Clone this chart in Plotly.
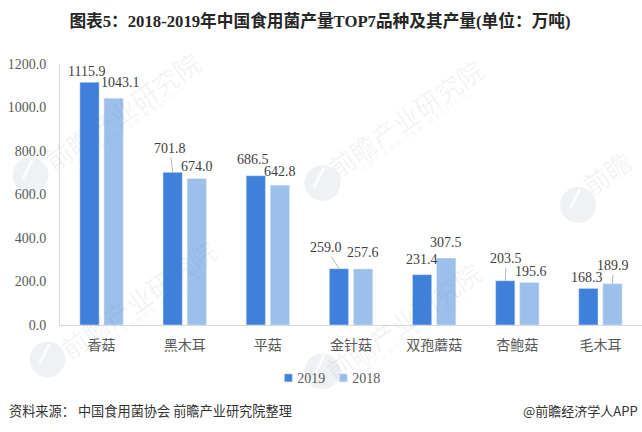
import plotly.graph_objects as go

categories = ["香菇", "黑木耳", "平菇", "金针菇", "双孢蘑菇", "杏鲍菇", "毛木耳"]
values_2019 = [1115.9, 701.8, 686.5, 259.0, 231.4, 203.5, 168.3]
values_2018 = [1043.1, 674.0, 642.8, 257.6, 307.5, 195.6, 189.9]
tick_values = [0, 200, 400, 600, 800, 1000, 1200]
tick_labels = ["0.0", "200.0", "400.0", "600.0", "800.0", "1000.0", "1200.0"]

W, H = 642, 432
ML, MR, MT, MB = 59.5, 0, 63.5, 106.5
FONT = "Liberation Serif, Noto Sans CJK SC"
SANS = "Noto Sans CJK SC, Liberation Sans"
COL19, COL18 = "#3f80dc", "#9dbfec"

# label offsets from bar top (dx, dy px), and whether a leader line is shown
off19 = [(-3, -11), (-3, -24), (-3, -16), (-13, -21), (0, -15), (1, -22), (-1, -11)]
lead19 = [0, 1, 0, 1, 0, 1, 0]
off18 = [(7, -16), (0, -12), (0, -14), (0, -16), (0, -16), (2, -11), (1, -18)]
lead18 = [0, 0, 0, 0, 0, 0, 1]


def px(x):
    return (x - ML) / (W - ML - MR)


def py(y):
    return (H - MB - y) / (H - MT - MB)


fig = go.Figure()
fig.add_bar(name="2019", x=categories, y=values_2019, marker_color=COL19, hoverinfo="skip")
fig.add_bar(name="2018", x=categories, y=values_2018, marker_color=COL18, hoverinfo="skip")

annotations = []
GROUP = 12
for i, c in enumerate(categories):
    for vals, off, lead, sign in ((values_2019, off19, lead19, -1), (values_2018, off18, lead18, 1)):
        dx, dy = off[i]
        annotations.append(dict(
            x=c, y=vals[i], xref="x", yref="y", xshift=sign * GROUP,
            text=f"{vals[i]:.1f}", showarrow=True, ax=dx, ay=dy, axref="pixel", ayref="pixel",
            arrowhead=0, arrowwidth=0.8,
            arrowcolor="#a6a6a6" if lead[i] else "rgba(0,0,0,0)",
            font=dict(family=FONT, size=14, color="#404040"),
        ))

# watermark
WM = "rgba(110,130,155,0.10)"
for cx, cy, t in [(122, 110, "前瞻产业研究院"), (138, 299, "前瞻产业研究院"),
                  (405, 117, "前瞻产业研究院"), (403, 321, "前瞻产业研究院"),
                  (606, 172, "前瞻")]:
    annotations.append(dict(xref="paper", yref="paper", x=px(cx), y=py(cy), text=t, textangle=-35,
                            showarrow=False, xanchor="center", yanchor="middle",
                            font=dict(family=SANS, size=26, color=WM)))
for cx, cy in [(132, 124), (148, 313), (415, 131), (413, 335)]:
    annotations.append(dict(xref="paper", yref="paper", x=px(cx), y=py(cy),
                            text="中 国 产 业 咨 询 领 导 者 ( 股 票 8 3 9 5 9 9 )", textangle=-35,
                            showarrow=False, xanchor="center", yanchor="middle",
                            font=dict(family=SANS, size=7, color=WM)))

shapes = []
for cx, cy in [(30, 175), (47, 360), (322, 183), (322, 372), (578, 205)]:
    r = 18
    shapes.append(dict(type="circle", xref="paper", yref="paper", layer="above", line_width=0,
                       fillcolor="rgba(110,130,155,0.11)",
                       x0=px(cx - r), x1=px(cx + r), y0=py(cy + r), y1=py(cy - r)))
    shapes.append(dict(type="line", xref="paper", yref="paper", layer="above",
                       line=dict(color="rgba(255,255,255,0.75)", width=3),
                       x0=px(cx - 8), x1=px(cx + 2), y0=py(cy + 4), y1=py(cy - 16)))

annotations.append(dict(xref="paper", yref="paper", x=px(6), y=py(411), xanchor="left", yanchor="middle",
                        showarrow=False, text="资料来源： 中国食用菌协会 前瞻产业研究院整理",
                        font=dict(family=SANS, size=13.2, color="#333333")))
annotations.append(dict(xref="paper", yref="paper", x=px(640), y=py(411), xanchor="right", yanchor="middle",
                        showarrow=False, text="@前瞻经济学人APP",
                        font=dict(family=SANS, size=13, color="#333333")))

fig.update_layout(
    width=W, height=H, autosize=False,
    margin=dict(l=ML, r=MR, t=MT, b=MB),
    paper_bgcolor="white", plot_bgcolor="white",
    barmode="group", bargap=0.42, bargroupgap=0.2,
    title=dict(text="<b>图表5：2018-2019年中国食用菌产量TOP7品种及其产量(单位：万吨)</b>",
               x=320 / W, xanchor="center", y=1 - 21 / H, yanchor="middle",
               font=dict(family="Liberation Serif, Noto Sans CJK SC", size=16.7, color="#262626")),
    legend=dict(orientation="h", x=px(257), xanchor="left", y=py(379), yanchor="middle",
                font=dict(family=FONT, size=14, color="#595959"),
                entrywidth=10, entrywidthmode="pixels",
                traceorder="normal", bgcolor="rgba(0,0,0,0)"),
    annotations=annotations, shapes=shapes,
    xaxis=dict(type="category", showline=True, linecolor="#d9d9d9", linewidth=1, ticks="",
               showgrid=False, ticklabelstandoff=7, tickfont=dict(family=FONT, size=14, color="#595959")),
    yaxis=dict(range=[0, 1200], tickvals=tick_values, ticktext=tick_labels, showline=True,
               linecolor="#d9d9d9", linewidth=1, ticks="", showgrid=False, zeroline=False, ticklen=0,
               ticklabelstandoff=10, tickfont=dict(family=FONT, size=14, color="#595959")),
)
post = """
document.body.style.margin = '0';
document.querySelectorAll('.legend .scrollbox').forEach(function (g) { g.removeAttribute('clip-path'); });
document.querySelectorAll('.legend').forEach(function (g) { g.removeAttribute('clip-path'); g.style.overflow = 'visible'; });
document.querySelectorAll('.legend .legendpoints').forEach(function (g) {
  g.setAttribute('transform', 'translate(11,0)');
  g.querySelectorAll('path').forEach(function (p) { p.setAttribute('d', 'M4,4H-4V-4H4Z'); });
});
"""
fig.write_html("out.html", post_script=post, config={"displayModeBar": False})
